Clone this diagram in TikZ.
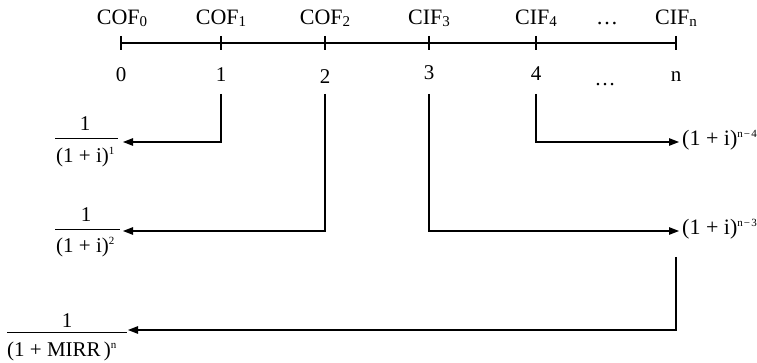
\documentclass[tikz,border=0pt]{standalone}
\usepackage{fontspec}
\setmainfont{Liberation Serif}
\usetikzlibrary{arrows.meta}
\newcommand{\mysub}[1]{\raisebox{-1.5pt}{\fontsize{15}{15}\selectfont #1}}
\newcommand{\mysup}[1]{\raisebox{8pt}{\fontsize{11}{11}\selectfont #1}}
\newcommand{\plusop}{\hspace{0.25em}+\hspace{0.25em}}
\begin{document}
\begin{tikzpicture}[x=1pt,y=-1pt,
  lbl/.style={font=\fontsize{22}{26}\selectfont, anchor=base, inner sep=0pt},
  num/.style={font=\fontsize{21}{25}\selectfont, anchor=base, inner sep=0pt},
  axis/.style={line width=1.2pt},
  bar/.style={line width=0.8pt},
  arr/.style={line width=1.1pt, -{Triangle[length=10pt,width=7.5pt]}},
  fnum/.style={font=\fontsize{21}{25}\selectfont, anchor=base, inner sep=0pt},
  fden/.style={font=\fontsize{21}{25}\selectfont, anchor=base west, inner sep=0pt},
  rlab/.style={font=\fontsize{22}{26}\selectfont, anchor=base west, inner sep=0pt}]
\useasboundingbox (0,0) rectangle (757,363);
% axis ticks
\foreach \n/\x in {t0/121,t1/221,t2/325,t3/429,t4/536,tn/676}{
  \coordinate (\n) at (\x,43);
  \draw[axis] (\x,36) -- (\x,50);
}
\draw[axis] (t0) -- (tn);
% top labels
\node[lbl] (c0) at (122,25) {COF\mysub{0}};
\node[lbl] (c1) at (221,25) {COF\mysub{1}};
\node[lbl] (c2) at (325,25) {COF\mysub{2}};
\node[lbl] (c3) at (429,25) {CIF\mysub{3}};
\node[lbl] (c4) at (536,25) {CIF\mysub{4}};
\node[lbl] (cd) at (607,25) {\dots};
\node[lbl] (cn) at (676,25) {CIF\mysub{n}};
% bottom labels
\node[num] (n0) at (121,82) {0};
\node[num] (n1) at (221,82) {1};
\node[num] (n2) at (325,84) {2};
\node[num] (n3) at (429,80) {3};
\node[num] (n4) at (536,81) {4};
\node[num] (nd) at (605,86) {\dots};
\node[num] (nn) at (676,82) {n};
% fractions
\node[fnum] (f1num) at (85,131) {1};
\draw[bar] (55,138.5) -- (118,138.5);
\node[fden] (f1den) at (56,163) {(1\plusop i)\mysup{1}};
\node[fnum] (f2num) at (86,222) {1};
\draw[bar] (55,229) -- (120,229);
\node[fden] (f2den) at (56,253) {(1\plusop i)\mysup{2}};
\node[fnum] (f3num) at (67,327) {1};
\draw[bar] (7,332) -- (127,332);
\node[fden] (f3den) at (7,356) {(1\plusop MIRR\hspace{0.15em})\mysup{n}};
% right labels
\node[rlab] (r4) at (682,146) {(1\plusop i)\mysup{n\hspace{0.1em}−\hspace{0.1em}4}};
\node[rlab] (r3) at (682,235) {(1\plusop i)\mysup{n\hspace{0.1em}−\hspace{0.1em}3}};
% connectors
\coordinate (s1) at (221,94);
\coordinate (s2) at (325,94);
\coordinate (s3) at (429,94);
\coordinate (s4) at (536,94);
\coordinate (sn) at (676,257);
\coordinate (e1) at (123,142);
\coordinate (e2) at (123,231);
\coordinate (e3) at (679,231);
\coordinate (e4) at (679,142);
\coordinate (en) at (128,330);
\draw[arr] (s1) |- (e1);
\draw[arr] (s2) |- (e2);
\draw[arr] (s3) |- (e3);
\draw[arr] (s4) |- (e4);
\draw[arr] (sn) |- (en);
\end{tikzpicture}
\end{document}
